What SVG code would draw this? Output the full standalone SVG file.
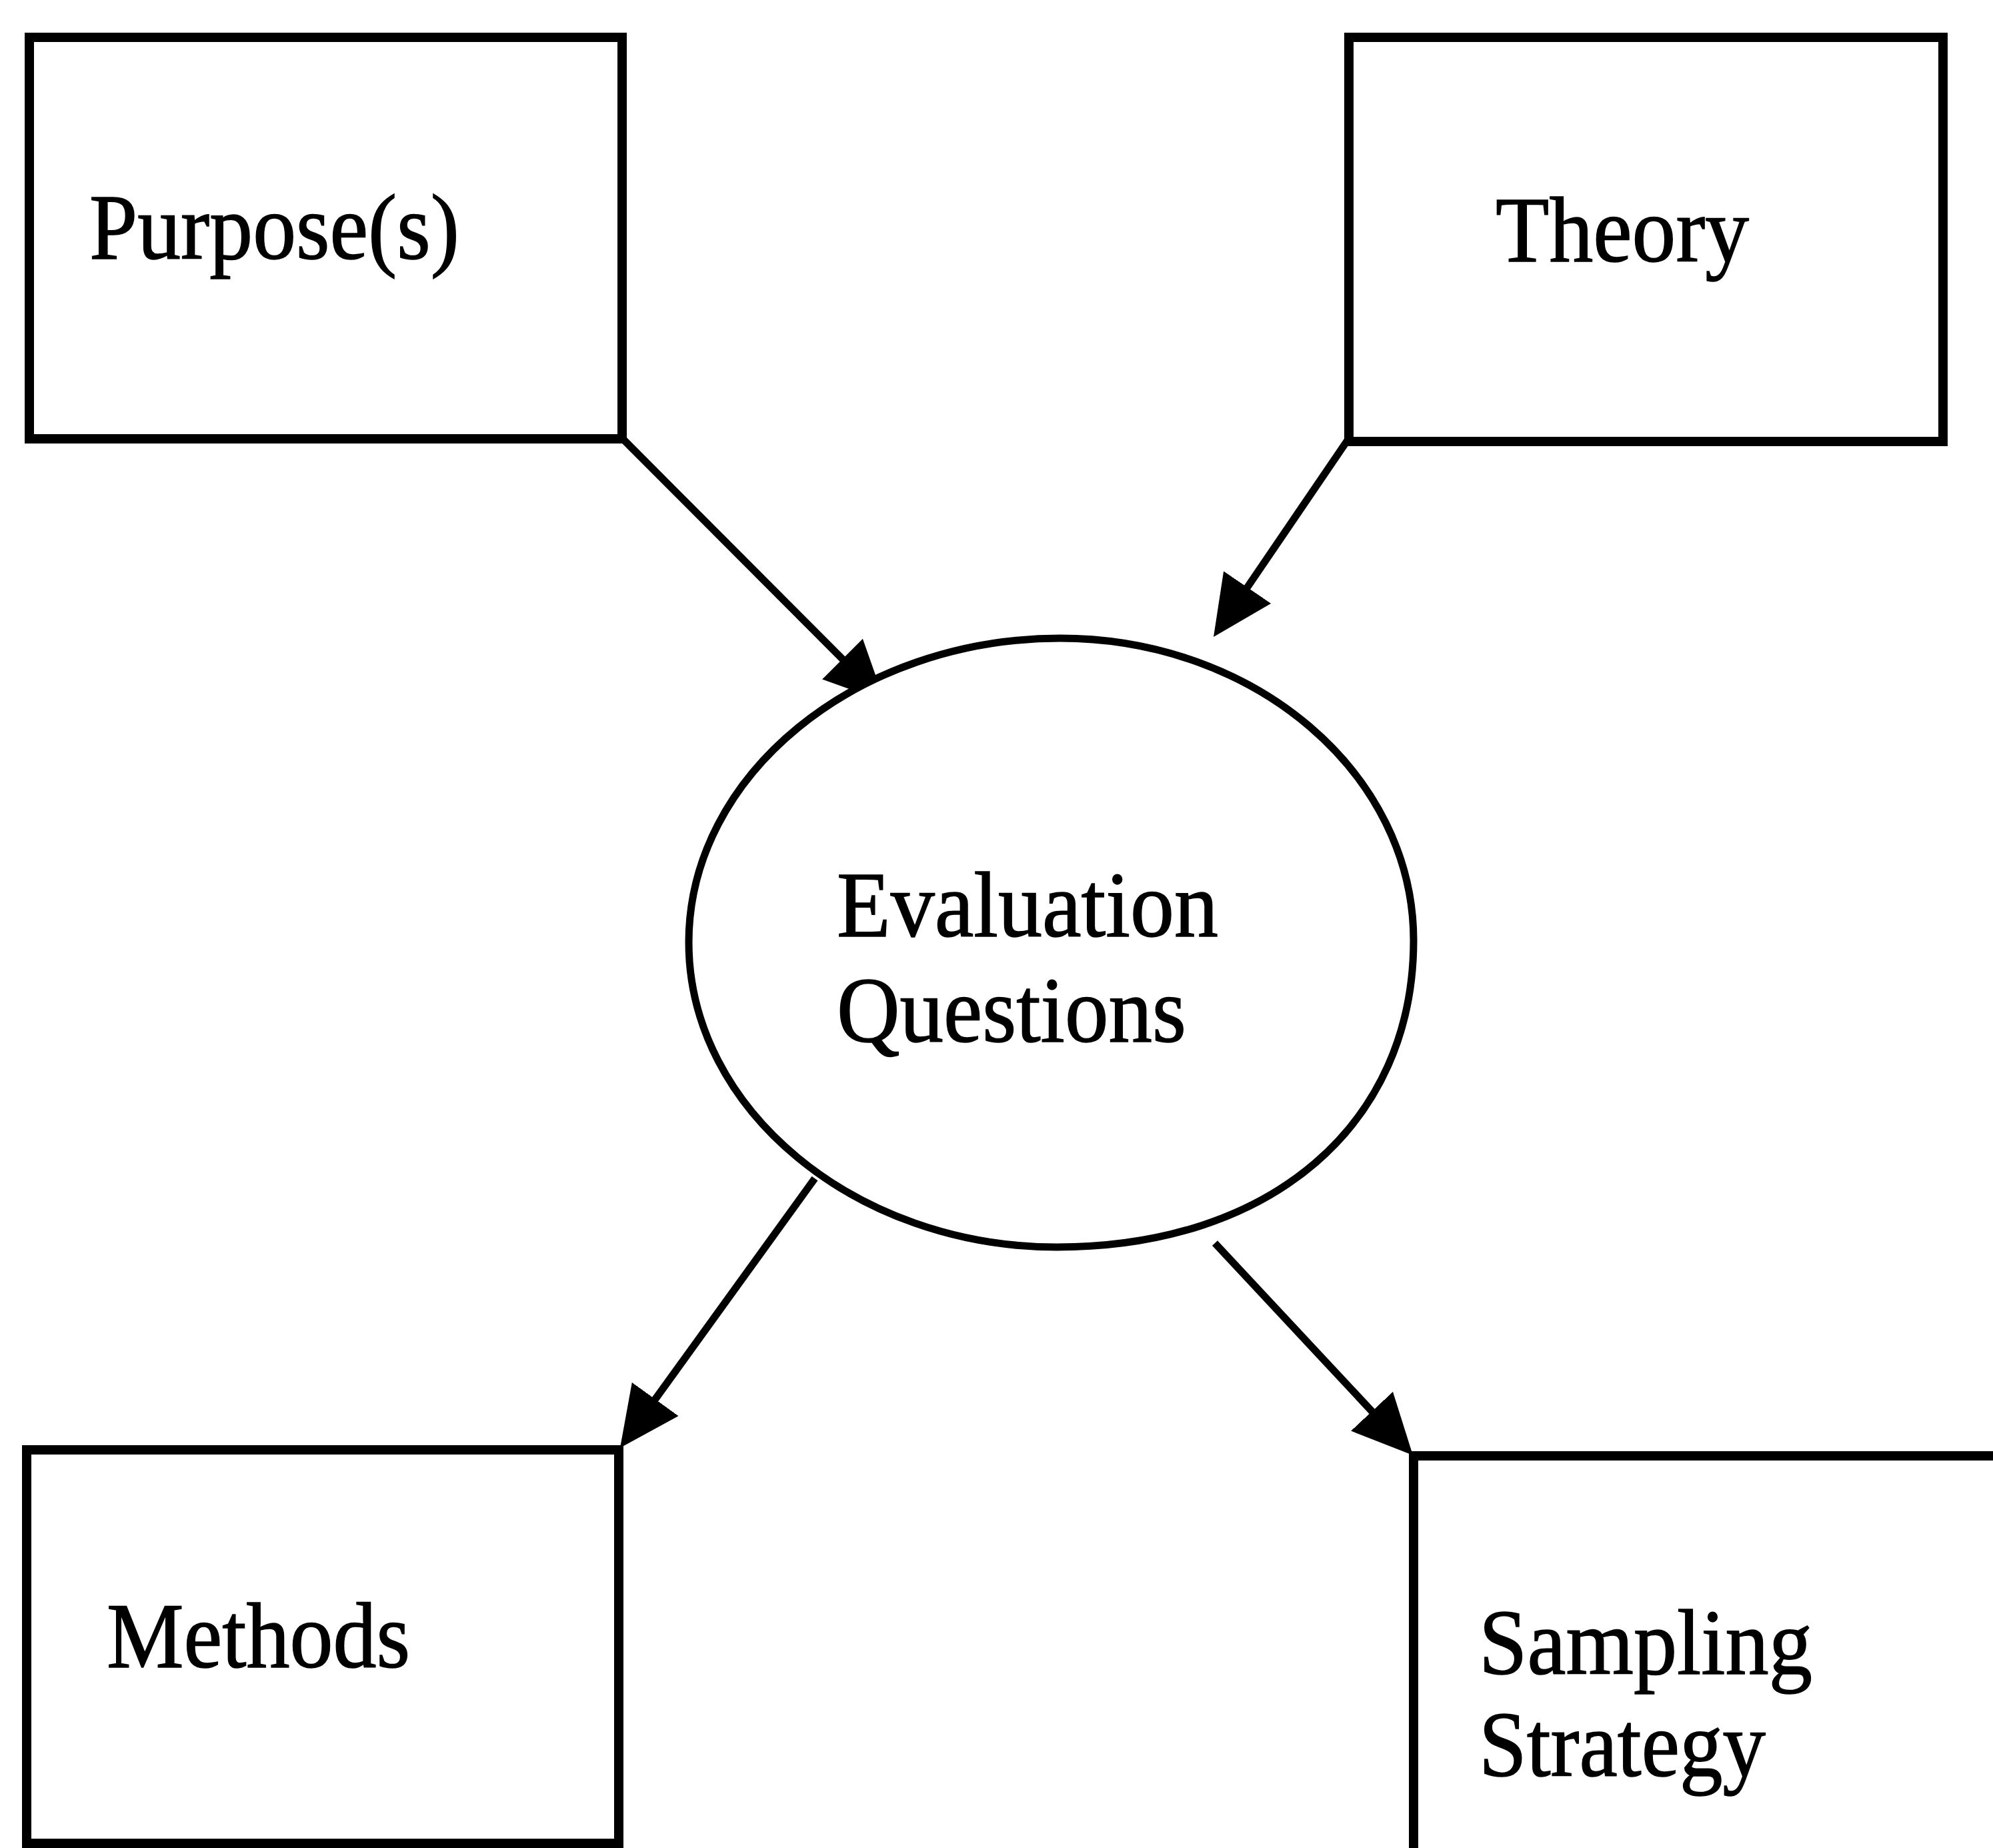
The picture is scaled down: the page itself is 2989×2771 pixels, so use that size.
<svg xmlns="http://www.w3.org/2000/svg" width="2989" height="2771" viewBox="0 0 2989 2771">
  <style>
    .box { fill: #fff; stroke: #000; stroke-width: 14; }
    .oval { fill: #fff; stroke: #000; stroke-width: 11; }
    .label { font-family: "Liberation Serif", "Times New Roman", serif; font-size: 140px; fill: #000; stroke: #000; stroke-width: 1.5; }
    .edge { fill: none; stroke: #000; stroke-width: 11; }
  </style>
  <defs>
    <marker id="arrow" viewBox="0 0 90 86" refX="70" refY="43" markerWidth="90" markerHeight="86" markerUnits="userSpaceOnUse" orient="auto">
      <path d="M0,0 L90,43 L0,86 z" fill="#000"/>
    </marker>
  </defs>
  <rect width="2989" height="2771" fill="#fff"/>

  <g id="connectors">
    <line class="edge" x1="934" y1="658" x2="1312.9" y2="1037.8" marker-end="url(#arrow)"/>
    <line class="edge" x1="2021" y1="660" x2="1831.3" y2="938.5" marker-end="url(#arrow)"/>
    <line class="edge" x1="1222" y1="1767" x2="941.7" y2="2154.8" marker-end="url(#arrow)"/>
    <line class="edge" x1="1822" y1="1864" x2="2105.3" y2="2167.4" marker-end="url(#arrow)"/>
  </g>

  <g id="purpose">
    <rect class="box" x="44" y="56" width="889" height="602"/>
    <text class="label" x="134" y="388" textLength="555" lengthAdjust="spacingAndGlyphs">Purpose(s)</text>
  </g>

  <g id="theory">
    <rect class="box" x="2023" y="56" width="891" height="606"/>
    <text class="label" x="2243" y="392" textLength="380" lengthAdjust="spacingAndGlyphs">Theory</text>
  </g>

  <g id="evaluation-questions">
    <path class="oval" d="M1590,957 C1882,957 2120,1160 2120,1410 C2120,1686 1906,1870 1585,1870 C1284,1870 1033,1664 1033,1413 C1033,1162 1285,957 1590,957 Z"/>
    <text class="label" x="1255" y="1404" textLength="572" lengthAdjust="spacingAndGlyphs">Evaluation</text>
    <text class="label" x="1255" y="1562" textLength="524" lengthAdjust="spacingAndGlyphs">Questions</text>
  </g>

  <g id="methods">
    <rect class="box" x="40" y="2174" width="888" height="590"/>
    <text class="label" x="160" y="2500" textLength="455" lengthAdjust="spacingAndGlyphs">Methods</text>
  </g>

  <g id="sampling-strategy">
    <rect class="box" x="2120" y="2183" width="1000" height="700"/>
    <text class="label" x="2218" y="2510" textLength="500" lengthAdjust="spacingAndGlyphs">Sampling</text>
    <text class="label" x="2218" y="2663" textLength="430" lengthAdjust="spacingAndGlyphs">Strategy</text>
  </g>
</svg>
